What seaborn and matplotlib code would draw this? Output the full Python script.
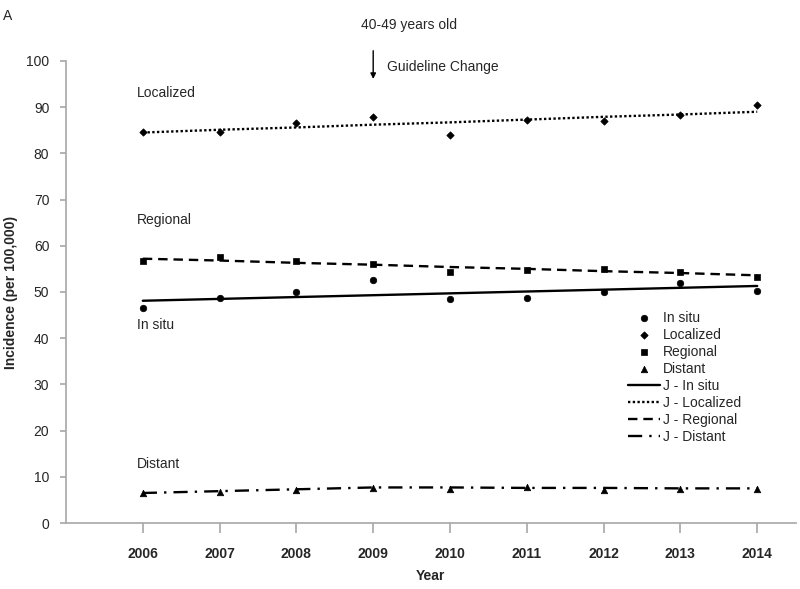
import numpy as np
import pandas as pd
import matplotlib
matplotlib.use("Agg")
import matplotlib.pyplot as plt
import seaborn as sns

years = [2006, 2007, 2008, 2009, 2010, 2011, 2012, 2013, 2014]

# observed incidence (per 100,000)
in_situ = [46.5, 48.6, 50.1, 52.6, 48.4, 48.6, 50.1, 51.9, 50.3]
localized = [84.6, 84.7, 86.5, 87.9, 83.9, 87.2, 86.9, 88.2, 90.5]
regional = [56.8, 57.5, 56.6, 56.1, 54.3, 54.8, 54.9, 54.4, 53.2]
distant = [6.4, 6.8, 7.1, 7.5, 7.4, 7.7, 7.1, 7.3, 7.3]

# joinpoint modelled values
j_in_situ = [48.1, 48.5, 48.9, 49.3, 49.7, 50.1, 50.5, 50.9, 51.3]
j_localized = [84.5, 85.1, 85.6, 86.2, 86.7, 87.3, 87.9, 88.4, 89.0]
j_regional = [57.2, 56.8, 56.3, 55.9, 55.4, 55.0, 54.5, 54.1, 53.6]
j_distant = [6.5, 6.9, 7.3, 7.7, 7.7, 7.6, 7.6, 7.5, 7.5]

sns.set_theme(style="ticks")
plt.rcParams['font.family'] = ['Liberation Sans', 'DejaVu Sans']

fig = plt.figure(figsize=(8, 5.89), dpi=100)
ax = fig.add_axes([0.0825, 0.112, 0.912, 0.7846])

obs = pd.DataFrame({"year": years * 4,
                    "value": in_situ + localized + regional + distant,
                    "series": (["In situ"] * 9 + ["Localized"] * 9 +
                               ["Regional"] * 9 + ["Distant"] * 9)})
markers = {"In situ": "o", "Localized": "D", "Regional": "s", "Distant": "^"}
sizes = {"In situ": 22, "Localized": 14, "Regional": 22, "Distant": 22}
for name, m in markers.items():
    d = obs[obs.series == name]
    sns.scatterplot(data=d, x="year", y="value", marker=m, color="black",
                    s=sizes[name], edgecolor="black", linewidth=0.5, ax=ax,
                    label=name, zorder=3)

fits = [("J - In situ", j_in_situ, "-"),
        ("J - Localized", j_localized, (0, (1, 1))),
        ("J - Regional", j_regional, (0, (4, 2.5))),
        ("J - Distant", j_distant, (0, (6, 3, 1, 3)))]
for name, vals, ls in fits:
    sns.lineplot(x=years, y=vals, color="black", linestyle=ls, linewidth=1.7,
                 ax=ax, label=name)

ax.set_xlim(2005.0, 2014.5)
ax.set_ylim(0, 100)
ax.set_xticks(years)
ax.set_yticks(range(0, 101, 10))
ax.tick_params(axis="x", labelsize=10, length=7, color="#aaaaaa", pad=10)
ax.tick_params(axis="y", labelsize=10, length=4, color="#aaaaaa", pad=8)
for lab in ax.get_xticklabels():
    lab.set_fontweight("bold")
for s in ["top", "right"]:
    ax.spines[s].set_visible(False)
for s in ["left", "bottom"]:
    ax.spines[s].set_color("#aaaaaa")
ax.set_xlabel("Year", fontsize=10, fontweight="bold", labelpad=6)
ax.set_ylabel("Incidence (per 100,000)", fontsize=10, fontweight="bold", labelpad=6)

leg = ax.legend(loc="upper left", bbox_to_anchor=(0.77, 0.459), frameon=False,
                fontsize=10, handlelength=2.3, handletextpad=0.2,
                labelspacing=0.22, borderpad=0, borderaxespad=0)

ax.text(2005.92, 93.1, "Localized", fontsize=10, va="center")
ax.text(2005.92, 65.6, "Regional", fontsize=10, va="center")
ax.text(2005.92, 42.9, "In situ", fontsize=10, va="center")
ax.text(2005.92, 12.8, "Distant", fontsize=10, va="center")

ax.annotate("", xy=(2009, 95.5), xytext=(2009, 102.8),
            arrowprops=dict(arrowstyle="-|>", color="black", lw=1,
                            mutation_scale=8), annotation_clip=False)
ax.text(2008.84, 107.8, "40-49 years old", fontsize=10, ha="left",
        va="center", clip_on=False)
ax.text(2009.18, 98.7, "Guideline Change", fontsize=10, va="center")
fig.text(0.004, 0.985, "A", fontsize=10, va="top")

fig.savefig("out.png", dpi=100, facecolor="white")
